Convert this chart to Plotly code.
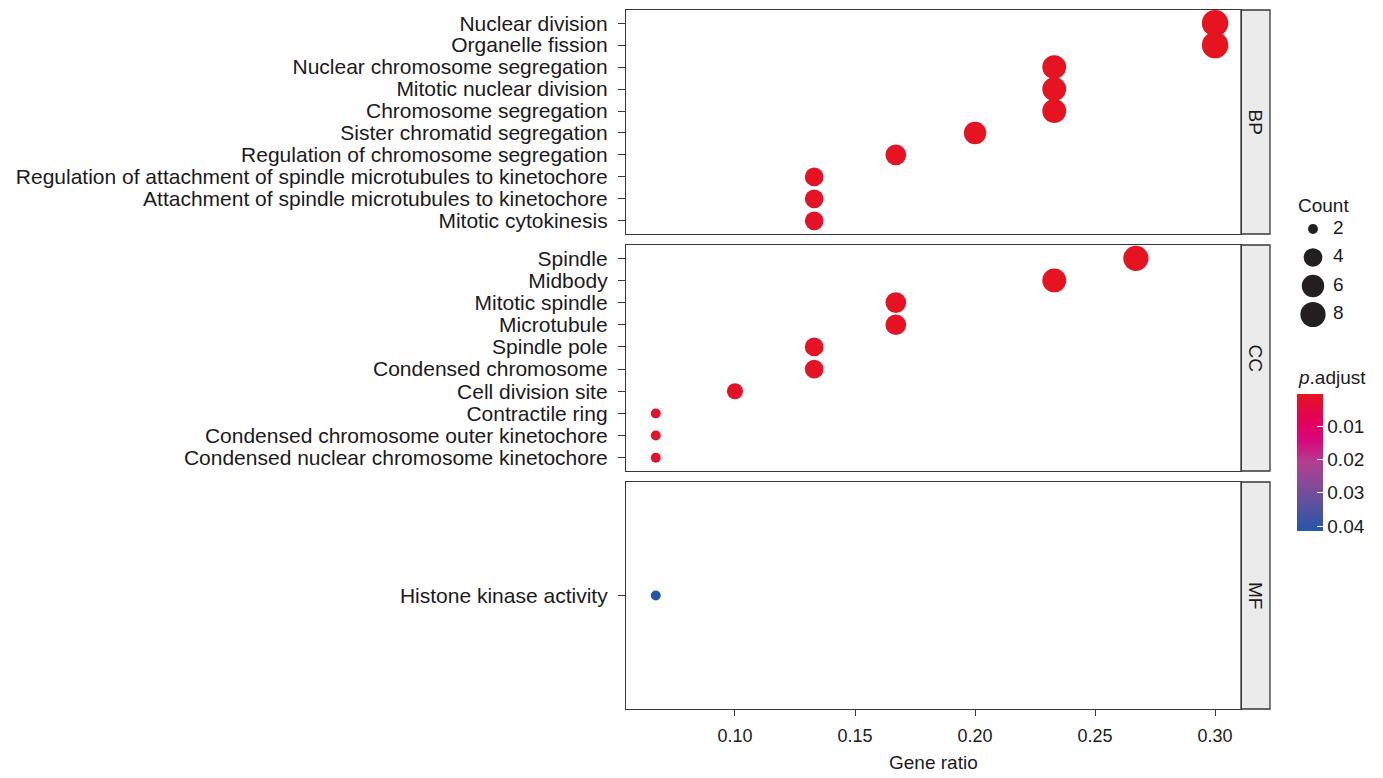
import plotly.graph_objects as go

W, H = 1383, 778

# ---------------- data ----------------
bp_terms = ["Nuclear division", "Organelle fission", "Nuclear chromosome segregation",
            "Mitotic nuclear division", "Chromosome segregation", "Sister chromatid segregation",
            "Regulation of chromosome segregation",
            "Regulation of attachment of spindle microtubules to kinetochore",
            "Attachment of spindle microtubules to kinetochore", "Mitotic cytokinesis"]
bp_ratio = [0.300, 0.300, 0.233, 0.233, 0.233, 0.200, 0.167, 0.133, 0.133, 0.133]
bp_count = [9, 9, 7, 7, 7, 6, 5, 4, 4, 4]
bp_padj = [0.0003, 0.0003, 0.0004, 0.0004, 0.0005, 0.0006, 0.0008, 0.0010, 0.0012, 0.0015]

cc_terms = ["Spindle", "Midbody", "Mitotic spindle", "Microtubule", "Spindle pole",
            "Condensed chromosome", "Cell division site", "Contractile ring",
            "Condensed chromosome outer kinetochore", "Condensed nuclear chromosome kinetochore"]
cc_ratio = [0.267, 0.233, 0.167, 0.167, 0.133, 0.133, 0.100, 0.067, 0.067, 0.067]
cc_count = [8, 7, 5, 5, 4, 4, 3, 2, 2, 2]
cc_padj = [0.0004, 0.0006, 0.0008, 0.0010, 0.0012, 0.0013, 0.0015, 0.0018, 0.0020, 0.0022]

mf_terms = ["Histone kinase activity"]
mf_ratio = [0.067]
mf_count = [2]
mf_padj = [0.0415]

panel_names = ["BP", "CC", "MF"]
x_ticks = [0.10, 0.15, 0.20, 0.25, 0.30]
legend_counts = [2, 4, 6, 8]
padj_ticks = [0.01, 0.02, 0.03, 0.04]

# ---------------- style ----------------
FONT = "Liberation Sans, Arial, Helvetica, sans-serif"
TXT = "#1c1a1a"
LINE = "#3a3636"
CMIN, CMAX = 0.0003, 0.0415
count_min, count_max = 2, 9


def dot_size(c):
    # ggplot-like area scale, range 3..8 -> pixels
    frac = (c - count_min) / (count_max - count_min)
    return 3.3 * (3 + 5 * frac ** 0.5)


def px_x(p):
    return p / W


def px_y(p):
    return 1 - p / H


plot_x0, plot_x1 = 626, 1241
panels_px = [(10, 234), (245, 471), (482, 709)]

fig = go.Figure()

data = [(bp_terms, bp_ratio, bp_count, bp_padj),
        (cc_terms, cc_ratio, cc_count, cc_padj),
        (mf_terms, mf_ratio, mf_count, mf_padj)]

layout_axes = {}
for i, ((terms, ratio, count, padj), (top, bot)) in enumerate(zip(data, panels_px)):
    k = "" if i == 0 else str(i + 1)
    fig.add_trace(go.Scatter(
        x=ratio, y=terms, mode="markers",
        xaxis="x" + k, yaxis="y" + k,
        marker=dict(size=[dot_size(c) for c in count],
                    color=[-v for v in padj], coloraxis="coloraxis",
                    line=dict(width=0), opacity=1),
        opacity=1,
        showlegend=False, hoverinfo="x+y"))
    n = len(terms)
    layout_axes["xaxis" + k] = dict(
        domain=[px_x(plot_x0), px_x(plot_x1)], anchor="y" + k,
        range=[0.0546, 0.3108], tickmode="array", tickvals=x_ticks,
        ticktext=["%.2f" % t for t in x_ticks],
        showticklabels=(i == 2), ticks="outside" if i == 2 else "",
        ticklen=6, tickwidth=1.3, tickcolor=LINE, ticklabelstandoff=4,
        showline=True, mirror=True, linecolor=LINE, linewidth=1.3,
        showgrid=False, zeroline=False,
        tickfont=dict(family=FONT, size=18, color=TXT),
        **({} if i == 0 else {"matches": "x"}))
    layout_axes["yaxis" + k] = dict(
        domain=[px_y(bot), px_y(top)], anchor="x" + k,
        type="category", categoryorder="array", categoryarray=terms,
        tickmode="array", tickvals=terms, ticktext=terms,
        range=[n - 1 + 0.6, -0.6], autorange=False,
        ticks="outside", ticklen=7, tickwidth=1.3, tickcolor=LINE, ticklabelstandoff=6,
        showline=True, mirror=True, linecolor=LINE, linewidth=1.3,
        showgrid=False, zeroline=False,
        tickfont=dict(family=FONT, size=21, color=TXT))

# strips
shapes = []
annotations = []
for name, (top, bot) in zip(panel_names, panels_px):
    shapes.append(dict(type="rect", xref="paper", yref="paper",
                       x0=px_x(1241), x1=px_x(1270), y0=px_y(bot), y1=px_y(top),
                       fillcolor="#ebebeb", line=dict(color=LINE, width=1.3), layer="below"))
    annotations.append(dict(xref="paper", yref="paper", x=px_x(1255.5), y=px_y((top + bot) / 2),
                            text=name, showarrow=False, textangle=90,
                            font=dict(family=FONT, size=19, color=TXT),
                            xanchor="center", yanchor="middle"))

# axis title
annotations.append(dict(xref="paper", yref="paper", x=px_x((plot_x0 + plot_x1) / 2), y=px_y(762),
                        text="Gene ratio", showarrow=False,
                        font=dict(family=FONT, size=19, color=TXT),
                        xanchor="center", yanchor="middle"))

# size legend (own small axes)
fig.add_trace(go.Scatter(
    x=[0] * len(legend_counts), y=list(range(len(legend_counts))), mode="markers",
    xaxis="x4", yaxis="y4", opacity=1,
    marker=dict(size=[dot_size(c) for c in legend_counts], color="#231f20",
                opacity=1, line=dict(width=0)),
    showlegend=False, hoverinfo="skip"))
fig.add_trace(go.Scatter(
    x=[1] * len(legend_counts), y=list(range(len(legend_counts))), mode="text",
    xaxis="x4", yaxis="y4",
    text=[str(c) for c in legend_counts], textposition="middle right",
    textfont=dict(family=FONT, size=19, color=TXT),
    showlegend=False, hoverinfo="skip"))
layout_axes["xaxis4"] = dict(domain=[px_x(1290), px_x(1370)], anchor="y4",
                             range=[-1.15, 2.85], visible=False, fixedrange=True)
layout_axes["yaxis4"] = dict(domain=[px_y(330), px_y(215)], anchor="x4",
                             range=[3.544, -0.491], visible=False, fixedrange=True)

annotations.append(dict(xref="paper", yref="paper", x=px_x(1296), y=px_y(205),
                        text="Count", showarrow=False,
                        font=dict(family=FONT, size=19, color=TXT),
                        xanchor="left", yanchor="middle"))
annotations.append(dict(xref="paper", yref="paper", x=px_x(1296), y=px_y(377),
                        text="<i>p</i>.adjust", showarrow=False,
                        font=dict(family=FONT, size=19, color=TXT),
                        xanchor="left", yanchor="middle"))

# colour axis (negated so low p.adjust sits at the top, as in the reference)
colorscale = [
    [0.00, "#2456a8"],
    [0.25, "#6c4f9c"],
    [0.50, "#b23f8f"],
    [0.66, "#d8087c"],
    [0.80, "#e2005c"],
    [1.00, "#e6141f"],
]

fig.update_layout(
    width=W, height=H,
    margin=dict(l=0, r=0, t=0, b=0),
    paper_bgcolor="white", plot_bgcolor="white",
    font=dict(family=FONT, color=TXT),
    showlegend=False,
    shapes=shapes, annotations=annotations,
    coloraxis=dict(
        cmin=-CMAX, cmax=-CMIN, colorscale=colorscale,
        colorbar=dict(
            thickness=26, thicknessmode="pixels",
            len=137, lenmode="pixels",
            x=px_x(1297), xanchor="left", xpad=0,
            y=px_y(394), yanchor="top", ypad=0,
            outlinewidth=0,
            tickvals=[-t for t in padj_ticks], ticktext=["%.2f" % t for t in padj_ticks],
            ticks="inside", ticklen=6, tickwidth=1.2, tickcolor="white",
            tickfont=dict(family=FONT, size=19, color=TXT),
            title=dict(text=""),
        )),
    **layout_axes,
)

fig.write_html("out.html")
